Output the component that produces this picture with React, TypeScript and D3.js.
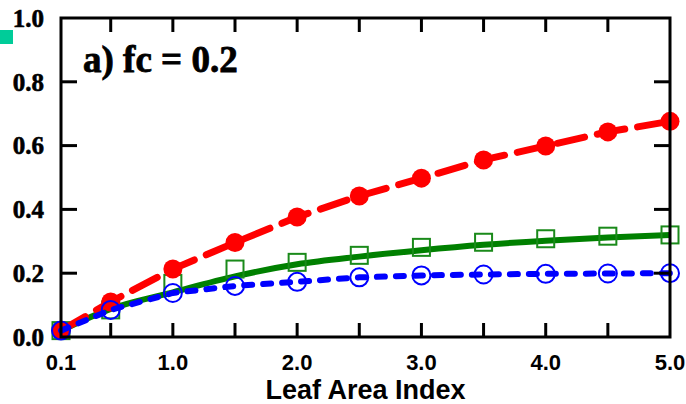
import React from "react";
import * as d3 from "d3";

const lai = [0.1, 0.5, 1.0, 1.5, 2.0, 2.5, 3.0, 3.5, 4.0, 4.5, 5.0];
const redVals = [0.02, 0.11, 0.213, 0.296, 0.376, 0.442, 0.498, 0.555, 0.599, 0.643, 0.676];
const greenPts = [0.02, 0.085, 0.168, 0.213, 0.234, 0.256, 0.281, 0.297, 0.308, 0.316, 0.32];
const greenLine = [0.02, 0.088, 0.14, 0.19, 0.228, 0.252, 0.272, 0.289, 0.302, 0.312, 0.32];
const blueVals = [0.02, 0.085, 0.138, 0.16, 0.173, 0.187, 0.193, 0.196, 0.198, 0.199, 0.2];
const xTicks = [0.1, 1.0, 2.0, 3.0, 4.0, 5.0];
const xMinor = [0.5, 1.0, 1.5, 2.0, 2.5, 3.0, 3.5, 4.0, 4.5];
const yTicks = [0.0, 0.2, 0.4, 0.6, 0.8, 1.0];

export default function App() {
  const W = 686, H = 404;
  const L = 61, R = 670, T = 18, B = 337;
  const x = d3.scaleLinear().domain([0.1, 5.0]).range([L, R]);
  const y = d3.scaleLinear().domain([0, 1]).range([B, T]);
  const line = d3.line<number>().x((_, i) => x(lai[i])).y((v) => y(v));
  const smooth = d3.line<number>().x((_, i) => x(lai[i])).y((v) => y(v)).curve(d3.curveMonotoneX);
  const sq = 17;
  return (
    <svg width={W} height={H} style={{ position: "absolute", left: 0, top: 0, background: "#fff" }}>
      <rect x={0} y={30} width={13} height={14} fill="#00cc99" />
      {/* series */}
      <path d={smooth(greenLine) || ""} fill="none" stroke="#008000" strokeWidth={6} />
      {lai.map((v, i) => (
        <rect key={"g" + i} x={x(v) - sq / 2} y={y(greenPts[i]) - sq / 2} width={sq} height={sq}
          fill="none" stroke="#1a8a1a" strokeWidth={2} />
      ))}
      <path d={line(redVals) || ""} fill="none" stroke="#ff0000" strokeWidth={7}
        strokeDasharray="28 13" strokeLinecap="round" />
      {lai.map((v, i) => (
        <circle key={"r" + i} cx={x(v)} cy={y(redVals[i])} r={9.5} fill="#ff0000" />
      ))}
      <path d={line(blueVals) || ""} fill="none" stroke="#0000ff" strokeWidth={6}
        strokeDasharray="8 11" strokeLinecap="round" />
      {lai.map((v, i) => (
        <circle key={"b" + i} cx={x(v)} cy={y(blueVals[i])} r={9} fill="none" stroke="#0000ff" strokeWidth={2} />
      ))}
      {/* frame */}
      <rect x={L} y={T} width={R - L} height={B - T} fill="none" stroke="#000" strokeWidth={3} />
      {xMinor.map((v) => (
        <g key={"xm" + v}>
          <line x1={x(v)} x2={x(v)} y1={B} y2={B - 14} stroke="#000" strokeWidth={3} />
          <line x1={x(v)} x2={x(v)} y1={T} y2={T + 14} stroke="#000" strokeWidth={3} />
        </g>
      ))}
      {yTicks.slice(1, -1).map((v) => (
        <g key={"ym" + v}>
          <line x1={L} x2={L + 16} y1={y(v)} y2={y(v)} stroke="#000" strokeWidth={3} />
          <line x1={R} x2={R - 16} y1={y(v)} y2={y(v)} stroke="#000" strokeWidth={3} />
        </g>
      ))}
      {yTicks.map((v) => (
        <text key={"yl" + v} x={44} y={y(v)} dy="0.35em" textAnchor="end"
          fontFamily="Liberation Serif, serif" fontWeight="bold" fontSize={25} fill="#000"
          stroke="#000" strokeWidth={0.6}>
          {v.toFixed(1)}
        </text>
      ))}
      {xTicks.map((v) => (
        <text key={"xl" + v} x={x(v)} y={370} textAnchor="middle"
          fontFamily="Liberation Sans, Arial, sans-serif" fontWeight="bold" fontSize={22} fill="#000">
          {v.toFixed(1)}
        </text>
      ))}
      <text x={(L + R) / 2} y={399} textAnchor="middle"
        fontFamily="Liberation Sans, Arial, sans-serif" fontWeight="bold" fontSize={27} fill="#000">
        Leaf Area Index
      </text>
      <text x={83} y={72} fontFamily="Liberation Serif, serif" fontWeight="bold" fontSize={37} fill="#000"
        stroke="#000" strokeWidth={0.8}>
        a) fc = 0.2
      </text>
    </svg>
  );
}
